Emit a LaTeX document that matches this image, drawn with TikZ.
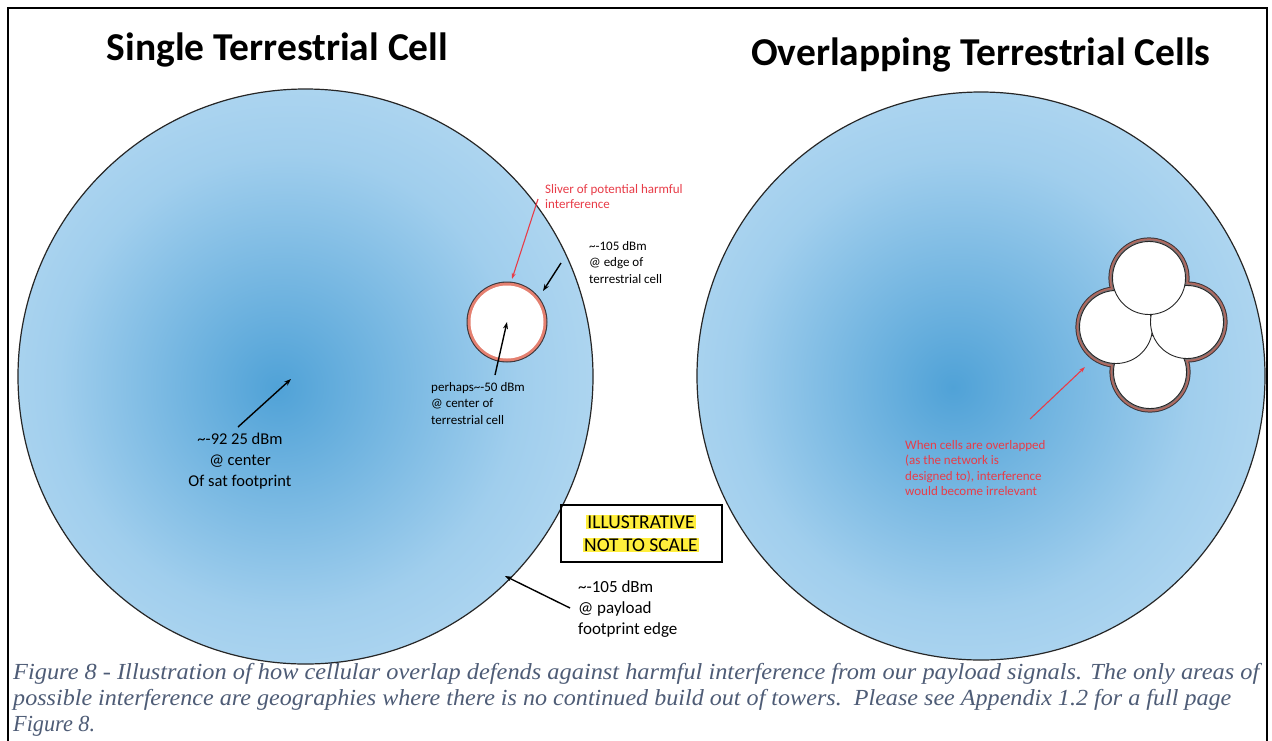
\documentclass[tikz,border=0pt]{standalone}
\usepackage{fontspec}
\setmainfont{Liberation Serif}
\newfontfamily\calfont{Carlito}
\usetikzlibrary{arrows.meta}
\definecolor{bluec}{RGB}{80,162,215}
\definecolor{bluem}{RGB}{160,206,237}
\definecolor{bluee}{RGB}{222,239,250}
\definecolor{annred}{RGB}{232,60,72}
\definecolor{salmon}{RGB}{228,128,112}
\definecolor{ringdark}{RGB}{60,55,60}
\definecolor{capcol}{RGB}{78,92,118}
\definecolor{hlyellow}{RGB}{255,238,60}
\pgfdeclareradialshading{satshade}{\pgfpoint{-2.5bp}{-1bp}}{color(0bp)=(bluec); color(20bp)=(bluem); color(50bp)=(bluee)}
\begin{document}
\begin{tikzpicture}[x=1pt,y=-1pt,
  title/.style={font=\calfont\bfseries\fontsize{39.5}{42}\selectfont, inner sep=0pt},
  ann/.style={font=\calfont\fontsize{13}{16.5}\selectfont, align=left, inner sep=0pt, anchor=north west},
  annbig/.style={font=\calfont\fontsize{16.5}{21}\selectfont, inner sep=0pt},
  redann/.style={font=\calfont\fontsize{13}{15.5}\selectfont, align=left, inner sep=0pt, anchor=north west, text=annred},
  blk/.style={draw=black, line width=1.4pt, -{Stealth[length=7pt,width=5pt]}},
  redarr/.style={draw=annred, line width=1.1pt, -{Stealth[length=6pt,width=4pt]}},
  footprint/.style={draw=black!85, line width=1.2pt, shading=satshade},
  capline/.style={font=\itshape\fontsize{23}{26}\selectfont, text=capcol, inner sep=0pt, anchor=base west}]
\useasboundingbox (0,0) rectangle (1272,740);
\fill[white] (0,0) rectangle (1272,740);
% frame
\draw[line width=2.6pt] (8,760) -- (8,8) -- (1267,8) -- (1267,760);

% titles
\node[title] (t1) at (277.5,50) {Single Terrestrial Cell};
\node[title] (t2) at (981,55) {Overlapping Terrestrial Cells};

% footprints
\path[footprint] (305.5,376.5) circle (287.5pt);
\path[footprint] (981,376) circle (284pt);

% single terrestrial cell
\coordinate (cellc) at (507,322);
\fill[ringdark] (cellc) circle (40.5pt);
\fill[salmon] (cellc) circle (39.4pt);
\fill[white] (cellc) circle (36.5pt);

% cluster of cells
\coordinate (ca) at (1149,278);
\coordinate (cb) at (1116,327);
\coordinate (cc) at (1187,322);
\coordinate (cd) at (1150,372);
\foreach \c in {ca,cb,cc,cd} {\fill[ringdark] (\c) circle (40.6pt);}
\foreach \c in {ca,cb,cc,cd} {\fill[salmon!70!ringdark] (\c) circle (39.6pt);}
\foreach \c in {ca,cb,cc,cd} {\fill[ringdark!70] (\c) circle (37.8pt);}
\foreach \c in {cd,cb,cc,ca} {\filldraw[fill=white, draw=black!85, line width=0.9pt] (\c) circle (36.5pt);}

% annotations left
\node[redann] (sliver) at (545,184) {Sliver of potential harmful\\interference};
\coordinate (sliverfrom) at (538,199);
\coordinate (sliverto) at (512,279);
\draw[redarr] (sliverfrom) -- (sliverto);

\node[ann] (edge) at (589,241) {\textasciitilde-105 dBm\\@ edge of\\terrestrial cell};
\coordinate (edgefrom) at (561,263);
\coordinate (edgeto) at (543,291);
\draw[blk] (edgefrom) -- (edgeto);

\node[ann] (perh) at (431,382) {perhaps\textasciitilde-50 dBm\\@ center of\\terrestrial cell};
\coordinate (perhfrom) at (495,375);
\draw[blk] (perhfrom) -- (cellc);

\node[annbig, align=center] (sat) at (240,461) {\textasciitilde-92 25 dBm\\@ center\\Of sat footprint};
\coordinate (satfrom) at (238,427);
\coordinate (satto) at (291,379);
\draw[blk] (satfrom) -- (satto);

\node[draw=black, line width=1.4pt, minimum width=161pt, minimum height=57pt, inner sep=0pt] (illbox) at (641.5,533.5) {};
\node[fill=hlyellow, font=\calfont\fontsize{19.5}{21}\selectfont, inner sep=1pt] (ill1) at (641,522) {ILLUSTRATIVE};
\node[fill=hlyellow, font=\calfont\fontsize{19.5}{21}\selectfont, inner sep=1pt] (ill2) at (641,545) {NOT TO SCALE};

\node[annbig, font=\calfont\fontsize{17}{21}\selectfont, align=left, anchor=north west] (pay) at (578,580) {\textasciitilde-105 dBm\\@ payload\\footprint edge};
\coordinate (payfrom) at (570,608);
\coordinate (payto) at (505,576);
\draw[blk] (payfrom) -- (payto);

% annotation right
\node[redann] (overl) at (905,440) {When cells are overlapped\\(as the network is\\designed to), interference\\would become irrelevant};
\coordinate (overfrom) at (1030,419);
\coordinate (overto) at (1085,367);
\draw[redarr] (overfrom) -- (overto);

% caption
\node[capline] (c1) at (13,679) {\resizebox{1246pt}{\height}{Figure 8 - Illustration of how cellular overlap defends against harmful interference from our payload signals. The only areas of}};
\node[capline] (c2) at (13,705) {\resizebox{1218pt}{\height}{possible interference are geographies where there is no continued build out of towers.\ \ Please see Appendix 1.2 for a full page}};
\node[capline] (c3) at (13,731) {\resizebox{82pt}{\height}{Figure 8.}};
\end{tikzpicture}
\end{document}
